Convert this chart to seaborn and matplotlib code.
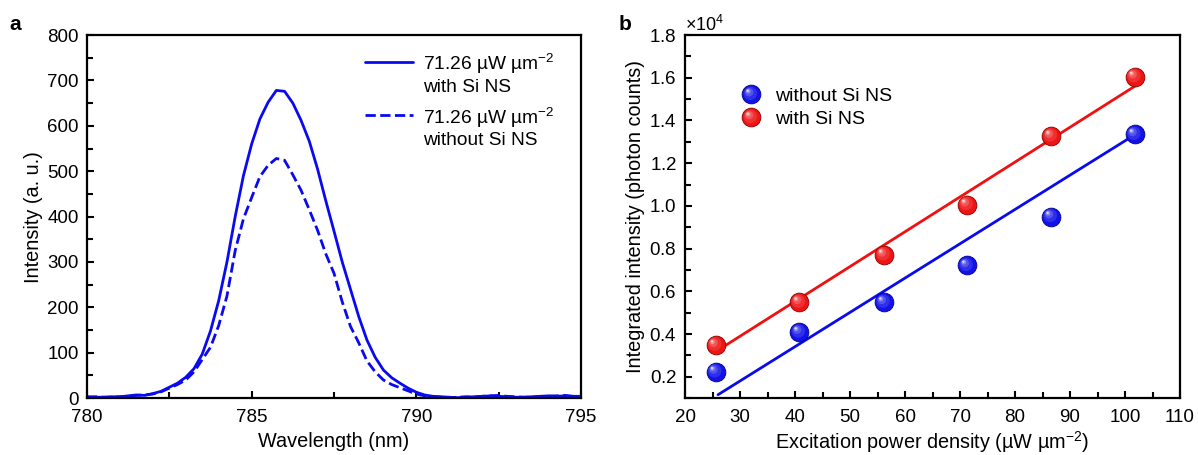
import numpy as np
import pandas as pd
import matplotlib
matplotlib.use("Agg")
import matplotlib.pyplot as plt
import seaborn as sns
from matplotlib.path import Path
from matplotlib.lines import Line2D
from matplotlib.legend_handler import HandlerTuple, HandlerLine2D
from matplotlib.ticker import MultipleLocator, ScalarFormatter

# ---- panel a: PL spectra ----
wavelength = [780.00, 780.25, 780.50, 780.75, 781.00, 781.25, 781.50, 781.75,
              782.00, 782.25, 782.50, 782.75, 783.00, 783.25, 783.50, 783.75,
              784.00, 784.25, 784.50, 784.75, 785.00, 785.25, 785.50, 785.75,
              786.00, 786.25, 786.50, 786.75, 787.00, 787.25, 787.50, 787.75,
              788.00, 788.25, 788.50, 788.75, 789.00, 789.25, 789.50, 789.75,
              790.00, 790.25, 790.50, 790.75, 791.00, 791.25, 791.50, 791.75,
              792.00, 792.25, 792.50, 792.75, 793.00, 793.25, 793.50, 793.75,
              794.00, 794.25, 794.50, 794.75, 795.00]
with_ns = [3, 2, 2, 3, 3, 5, 7, 6,
           10, 15, 24, 33, 46, 65, 97, 148,
           215, 300, 400, 490, 560, 615, 652, 678,
           676, 650, 612, 566, 505, 435, 368, 300,
           240, 180, 128, 90, 62, 45, 33, 22,
           13, 7, 4, 3, 2, 1, 2, 3,
           4, 5, 4, 3, 2, 2, 3, 4,
           5, 4, 5, 4, 4]
without_ns = [2, 3, 2, 2, 3, 4, 6, 7,
              9, 14, 22, 30, 40, 58, 85, 112,
              160, 225, 325, 395, 442, 488, 513, 528,
              524, 492, 458, 415, 370, 318, 275, 212,
              158, 122, 82, 58, 40, 30, 23, 16,
              9, 5, 3, 2, 1, 2, 3, 2,
              4, 5, 6, 4, 3, 2, 2, 3,
              4, 5, 6, 4, 3]
spec_label = "71.26 µW µm$^{-2}$"

# ---- panel b: integrated intensity vs power ----
power = [25.6, 40.8, 56.2, 71.3, 86.6, 101.8]
counts_without = [2230, 4090, 5490, 7210, 9500, 13350]
counts_with = [3480, 5490, 7710, 10060, 13270, 16050]
fit_x_without = [26.0, 101.2]
fit_y_without = [1160, 13240]
fit_x_with = [25.6, 102.0]
fit_y_with = [3180, 15640]

sns.set_theme(style="white")
plt.rcParams["font.family"] = ["Liberation Sans", "DejaVu Sans"]
plt.rcParams["mathtext.fontset"] = "custom"
plt.rcParams["mathtext.rm"] = "Liberation Sans"
plt.rcParams["mathtext.it"] = "Liberation Sans:italic"
plt.rcParams["axes.linewidth"] = 1.6
plt.rcParams["axes.edgecolor"] = "black"
for k in ("text.color", "axes.labelcolor", "xtick.color", "ytick.color"):
    plt.rcParams[k] = "black"

fig = plt.figure(figsize=(11.98, 4.55), dpi=100)
ax1 = fig.add_axes([0.0726, 0.125, 0.4124, 0.798])
ax2 = fig.add_axes([0.5718, 0.125, 0.4132, 0.798])

blue = "#0a0af0"
lab_fs = 14.3
tick_fs = 13.5


# 图例线放在第一行文字旁
class TopLine(HandlerLine2D):
    def create_artists(self, legend, orig_handle, xdescent, ydescent,
                       width, height, fontsize, trans):
        arts = super().create_artists(legend, orig_handle, xdescent, ydescent,
                                      width, height, fontsize, trans)
        for a in arts:
            a.set_ydata(np.asarray(a.get_ydata()) + 0.62 * fontsize)
        return arts


# 谱线
sns.lineplot(x=wavelength, y=with_ns, ax=ax1, color=blue, lw=2.0,
             label=spec_label + "\nwith Si NS")
sns.lineplot(x=wavelength, y=without_ns, ax=ax1, color=blue, lw=2.0,
             linestyle="--", label=spec_label + "\nwithout Si NS")
ax1.set_xlim(780, 795)
ax1.set_ylim(0, 800)
ax1.xaxis.set_major_locator(MultipleLocator(5))
ax1.xaxis.set_minor_locator(MultipleLocator(2.5))
ax1.yaxis.set_major_locator(MultipleLocator(100))
ax1.yaxis.set_minor_locator(MultipleLocator(50))
ax1.set_xlabel("Wavelength (nm)", fontsize=lab_fs, labelpad=4)
ax1.set_ylabel("Intensity (a. u.)", fontsize=lab_fs, labelpad=3)
h1, l1 = ax1.get_legend_handles_labels()
ax1.legend(h1, l1, handler_map={Line2D: TopLine()},
           loc="upper right", bbox_to_anchor=(0.98, 1.0), frameon=False,
           fontsize=13.8, handlelength=2.5, handletextpad=0.5, labelspacing=0.5)


# 球形标记: 偏移的圆形路径叠加出高光
def ball_path(cx, cy, r):
    circ = Path.circle((cx, cy), r)
    verts = np.vstack([[[1.0, 0.0]], circ.vertices])
    codes = np.concatenate([[Path.MOVETO], circ.codes])
    return Path(verts, codes)


def mix(c, f):
    c = np.array(matplotlib.colors.to_rgb(c))
    return tuple(c + (1 - c) * f)


layers = [(0.0, 0.0, 1.0, 0.0), (-0.12, 0.12, 0.72, 0.12),
          (-0.25, 0.25, 0.45, 0.28), (-0.35, 0.35, 0.25, 0.5),
          (-0.4, 0.4, 0.12, 0.85)]
msize = 13.5


def draw_balls(ax, x, y, base, edge):
    handles = []
    for i, (cx, cy, r, f) in enumerate(layers):
        m = ball_path(cx, cy, r)
        col = mix(base, f)
        ec = edge if i == 0 else "none"
        sns.scatterplot(x=x, y=y, ax=ax, marker=m, s=msize ** 2, color=col,
                        edgecolor=ec, linewidth=0.6, zorder=3 + i, legend=False)
        handles.append(Line2D([], [], linestyle="none", marker=m, markersize=msize,
                              markerfacecolor=col, markeredgecolor=ec,
                              markeredgewidth=0.6))
    return tuple(handles)


red = "#f01010"
sns.lineplot(x=fit_x_with, y=fit_y_with, ax=ax2, color=red, lw=2.0, zorder=2)
sns.lineplot(x=fit_x_without, y=fit_y_without, ax=ax2, color=blue, lw=2.0, zorder=2)
h_without = draw_balls(ax2, power, counts_without, "#1212e8", "#00008a")
h_with = draw_balls(ax2, power, counts_with, "#ee1414", "#8a0000")

ax2.set_xlim(20, 110)
ax2.set_ylim(1000, 18000)
ax2.xaxis.set_major_locator(MultipleLocator(10))
ax2.xaxis.set_minor_locator(MultipleLocator(5))
ax2.yaxis.set_major_locator(MultipleLocator(2000))
ax2.yaxis.set_minor_locator(MultipleLocator(1000))
fmt = ScalarFormatter(useMathText=True)
fmt.set_powerlimits((0, 0))
ax2.yaxis.set_major_formatter(fmt)
ax2.yaxis.get_offset_text().set_fontsize(13)
ax2.set_xlabel("Excitation power density (µW µm$^{-2}$)", fontsize=lab_fs, labelpad=2)
ax2.set_ylabel("Integrated intensity (photon counts)", fontsize=lab_fs, labelpad=3)
ax2.legend([h_without, h_with], ["without Si NS", "with Si NS"],
           handler_map={tuple: HandlerTuple(ndivide=1, pad=0)},
           loc="upper left", bbox_to_anchor=(0.075, 0.905), frameon=False,
           fontsize=14, handlelength=1.2, handletextpad=0.6, labelspacing=0.3)

for ax in (ax1, ax2):
    ax.tick_params(which="both", direction="in", bottom=True, left=True,
                   top=False, right=False, width=1.5, labelsize=tick_fs)
    ax.tick_params(axis="x", which="both", pad=8)
    ax.tick_params(axis="y", which="both", pad=6)
    ax.tick_params(which="major", length=5)
    ax.tick_params(which="minor", length=4)
    for sp in ax.spines.values():
        sp.set_linewidth(1.6)
        sp.set_color("black")

fig.text(0.008, 0.933, "a", fontsize=15, fontweight="bold")
fig.text(0.516, 0.933, "b", fontsize=15, fontweight="bold")

fig.savefig("out.png", dpi=100)
